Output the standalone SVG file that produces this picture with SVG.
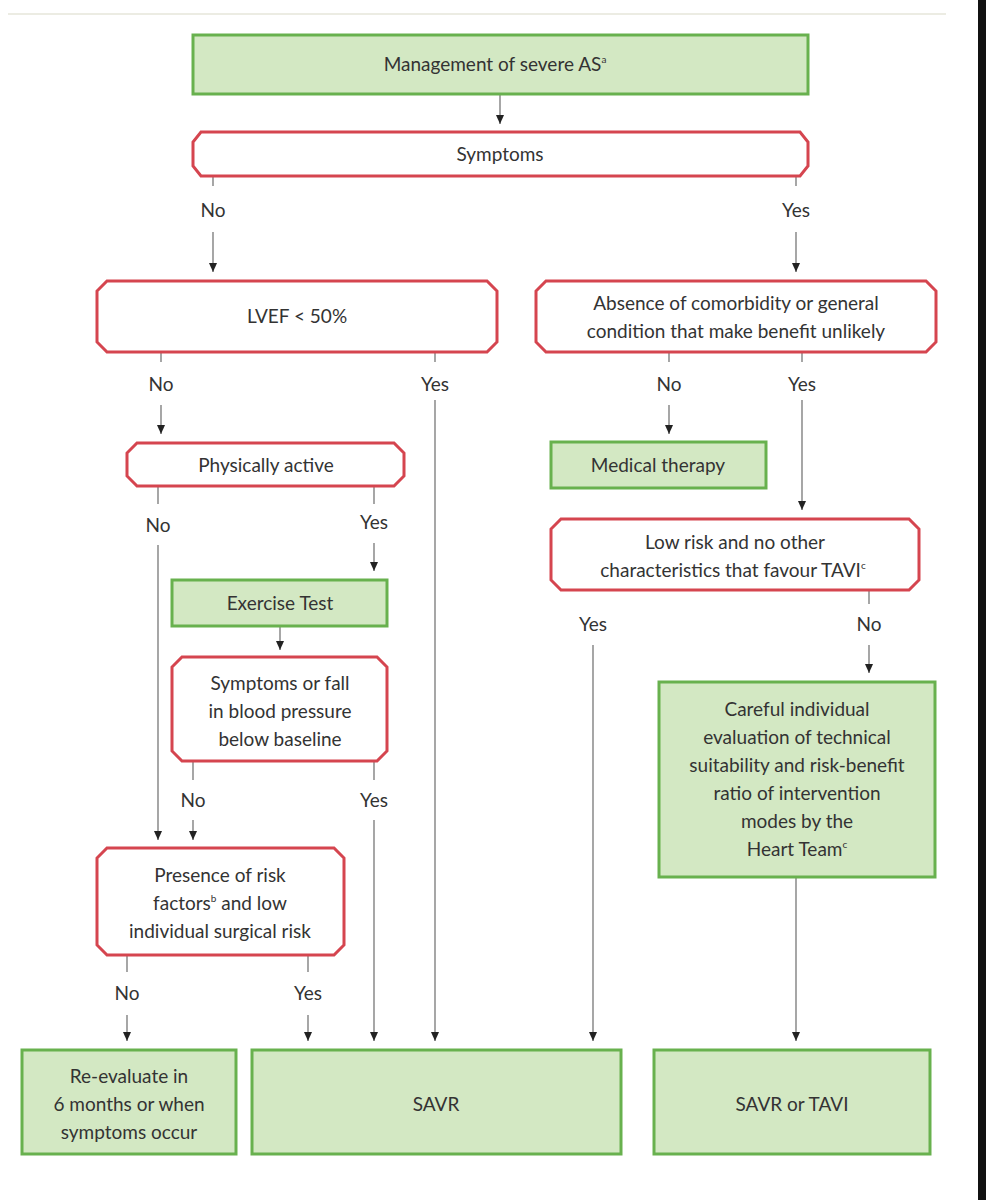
<svg xmlns="http://www.w3.org/2000/svg" width="986" height="1200" viewBox="0 0 986 1200">
<style>
.g{fill:#d3e8c3;stroke:#68b14e;stroke-width:3}
.r{fill:#fff;stroke:#d5454f;stroke-width:3}
text{font-family:Lato,"Liberation Sans",sans-serif;font-size:19px;fill:#333;text-anchor:middle}
.c line{stroke:#777;stroke-width:1.3}
.a{marker-end:url(#ar)}
</style>
<defs><marker id="ar" markerWidth="10" markerHeight="8" refX="9" refY="4" orient="auto" markerUnits="userSpaceOnUse"><path d="M0,0 L9,4 L0,8 Z" fill="#222"/></marker></defs>
<rect width="986" height="1200" fill="#fff"/>
<line x1="8" y1="14" x2="946" y2="14" stroke="#e6e6da" stroke-width="1.5"/>
<rect x="978" y="0" width="8" height="1200" fill="#111"/>
<g class="c">
<line x1="500" y1="95" x2="500" y2="124" class="a"/>
<line x1="213" y1="176" x2="213" y2="186"/><line x1="213" y1="232" x2="213" y2="272" class="a"/>
<line x1="796" y1="176" x2="796" y2="186"/><line x1="796" y1="232" x2="796" y2="272" class="a"/>
<line x1="161" y1="352" x2="161" y2="362"/><line x1="161" y1="405" x2="161" y2="434" class="a"/>
<line x1="435" y1="352" x2="435" y2="362"/><line x1="435" y1="400" x2="435" y2="1041" class="a"/>
<line x1="669" y1="352" x2="669" y2="362"/><line x1="669" y1="405" x2="669" y2="434" class="a"/>
<line x1="802" y1="352" x2="802" y2="362"/><line x1="802" y1="400" x2="802" y2="510" class="a"/>
<line x1="158" y1="487" x2="158" y2="504"/><line x1="158" y1="545" x2="158" y2="840" class="a"/>
<line x1="374" y1="487" x2="374" y2="504"/><line x1="374" y1="543" x2="374" y2="571" class="a"/>
<line x1="280" y1="627" x2="280" y2="650" class="a"/>
<line x1="193" y1="762" x2="193" y2="780"/><line x1="193" y1="820" x2="193" y2="840" class="a"/>
<line x1="374" y1="762" x2="374" y2="780"/><line x1="374" y1="820" x2="374" y2="1041" class="a"/>
<line x1="127" y1="956" x2="127" y2="972"/><line x1="127" y1="1015" x2="127" y2="1041" class="a"/>
<line x1="308" y1="956" x2="308" y2="972"/><line x1="308" y1="1015" x2="308" y2="1041" class="a"/>
<line x1="593" y1="645" x2="593" y2="1041" class="a"/>
<line x1="869" y1="590" x2="869" y2="604"/><line x1="869" y1="645" x2="869" y2="673" class="a"/>
<line x1="796" y1="878" x2="796" y2="1041" class="a"/>
</g>
<g id="labels">
<text x="213" y="217">No</text><text x="796" y="217">Yes</text>
<text x="161" y="391">No</text><text x="435" y="391">Yes</text>
<text x="669" y="391">No</text><text x="802" y="391">Yes</text>
<text x="158" y="532">No</text><text x="374" y="529">Yes</text>
<text x="193" y="807">No</text><text x="374" y="807">Yes</text>
<text x="127" y="1000">No</text><text x="308" y="1000">Yes</text>
<text x="593" y="631">Yes</text><text x="869" y="631">No</text>
</g>
<g id="n1"><rect class="g" x="193" y="35" width="615" height="59"/><text x="495" y="71">Management of severe AS<tspan font-size="10" dy="-8">a</tspan></text></g>
<g id="n2"><path class="r" d="M201,132 H800 L808,142 V166 L800,176 H201 L193,166 V142 Z"/><text x="500" y="161">Symptoms</text></g>
<g id="n3"><path class="r" d="M107,281 H487 L497,291 V342 L487,352 H107 L97,342 V291 Z"/><text x="297" y="323">LVEF &lt; 50%</text></g>
<g id="n4"><path class="r" d="M546,281 H926 L936,291 V342 L926,352 H546 L536,342 V291 Z"/><text x="736" y="310">Absence of comorbidity or general</text><text x="736" y="338">condition that make benefit unlikely</text></g>
<g id="n5"><path class="r" d="M137,443 H394 L404,453 V476 L394,486 H137 L127,476 V453 Z"/><text x="266" y="472">Physically active</text></g>
<g id="n6"><rect class="g" x="551" y="442" width="215" height="46"/><text x="658" y="472">Medical therapy</text></g>
<g id="n7"><path class="r" d="M561,519 H909 L919,529 V580 L909,590 H561 L551,580 V529 Z"/><text x="735" y="549">Low risk and no other</text><text x="733" y="577">characteristics that favour TAVI<tspan font-size="10" dy="-8">c</tspan></text></g>
<g id="n8"><rect class="g" x="172" y="580" width="215" height="46"/><text x="280" y="610">Exercise Test</text></g>
<g id="n9"><path class="r" d="M182,657 H377 L387,667 V751 L377,761 H182 L172,751 V667 Z"/><text x="280" y="690">Symptoms or fall</text><text x="280" y="718">in blood pressure</text><text x="280" y="746">below baseline</text></g>
<g id="n10"><rect class="g" x="659" y="682" width="276" height="195"/><text x="797" y="716">Careful individual</text><text x="797" y="744">evaluation of technical</text><text x="797" y="772">suitability and risk-benefit</text><text x="797" y="800">ratio of intervention</text><text x="797" y="828">modes by the</text><text x="797" y="856">Heart Team<tspan font-size="10" dy="-8">c</tspan></text></g>
<g id="n11"><path class="r" d="M107,848 H334 L344,858 V945 L334,955 H107 L97,945 V858 Z"/><text x="220" y="882">Presence of risk</text><text x="220" y="910">factors<tspan font-size="10" dy="-8">b</tspan><tspan dy="8"> and low</tspan></text><text x="220" y="938">individual surgical risk</text></g>
<g id="n12"><rect class="g" x="22" y="1050" width="214" height="104"/><text x="129" y="1083">Re-evaluate in</text><text x="129" y="1111">6 months or when</text><text x="129" y="1139">symptoms occur</text></g>
<g id="n13"><rect class="g" x="252" y="1050" width="369" height="104"/><text x="436" y="1111">SAVR</text></g>
<g id="n14"><rect class="g" x="654" y="1050" width="276" height="104"/><text x="792" y="1111">SAVR or TAVI</text></g>
</svg>
